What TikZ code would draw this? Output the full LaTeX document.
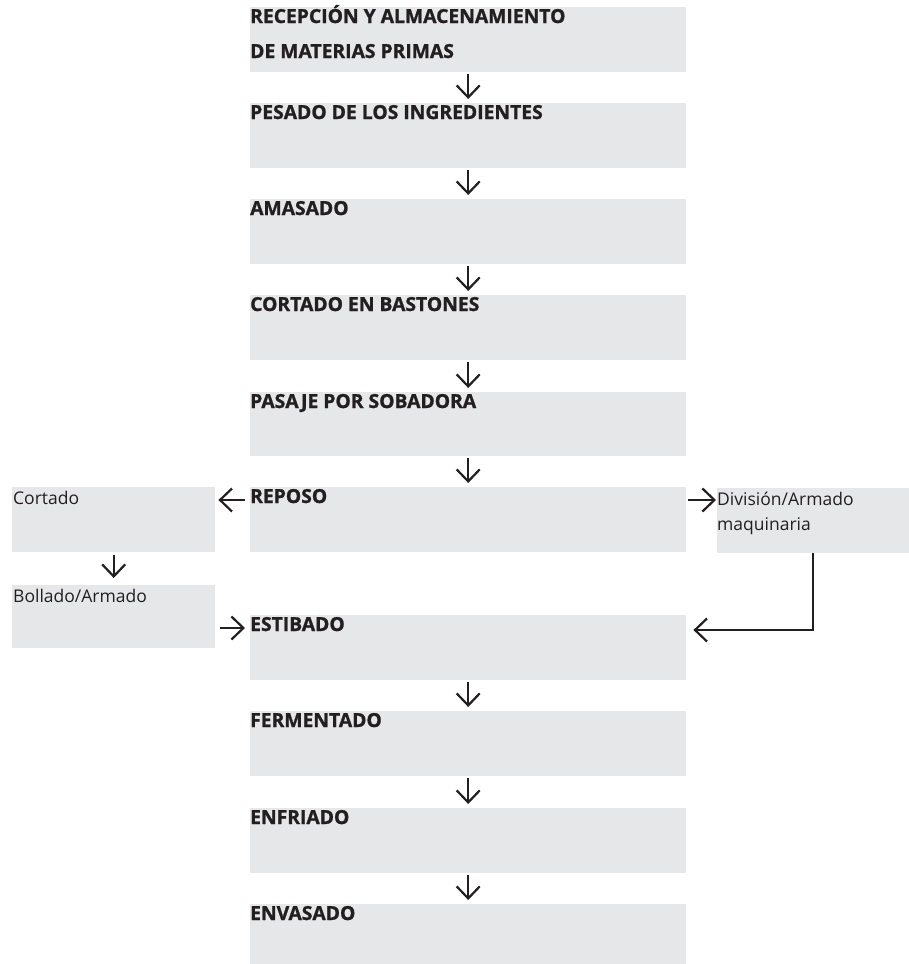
\documentclass[tikz,border=0pt]{standalone}
\usepackage{fontspec}
\setmainfont{Open Sans}[BoldFeatures={FakeBold=1.2}]
\usetikzlibrary{arrows.meta,calc}
\definecolor{boxgray}{HTML}{E6E7E8}
\definecolor{ink}{HTML}{231F20}
\newcommand{\boldlbl}{\fontsize{19.3}{35}\selectfont\bfseries}
\newcommand{\normlbl}{\fontsize{17.5}{25}\selectfont}
\begin{document}
\begin{tikzpicture}[x=1pt,y=-1pt,
  box/.style={fill=boxgray,draw=none,inner sep=0pt,anchor=north west,minimum width=436pt,minimum height=65pt},
  sidebox/.style={box,minimum width=203pt},
  ttl/.style={anchor=base west,inner sep=0pt,text=ink,font=\boldlbl},
  sub/.style={anchor=base west,inner sep=0pt,text=ink,font=\normlbl},
  arr/.style={draw=ink,line width=2.2pt,-{Straight Barb[length=12pt,width=23pt]}},
  varr/.style={arr,shorten <=2pt,shorten >=4pt}]
\useasboundingbox (0,0) rectangle (909,964);
% main column boxes
\node[box] (b1) at (250,7) {};
\node[box] (b2) at (250,103) {};
\node[box] (b3) at (250,199) {};
\node[box] (b4) at (250,295) {};
\node[box,minimum height=64pt] (b5) at (250,392) {};
\node[box] (b6) at (250,487) {};
\node[box] (b7) at (250,615) {};
\node[box] (b8) at (250,711) {};
\node[box] (b9) at (250,808) {};
\node[box,minimum height=60pt] (b10) at (250,904) {};
% side boxes
\node[sidebox] (cort) at (12,487) {};
\node[sidebox,minimum height=63pt] (boll) at (12,585) {};
\node[box,minimum width=192pt] (div) at (717,488) {};
% labels
\node[ttl] (t1) at ($(b1.north west)+(0,16)$) {\begin{tabular}[t]{@{}l@{}}RECEPCIÓN Y ALMACENAMIENTO\\DE MATERIAS PRIMAS\end{tabular}};
\node[ttl] (t2) at ($(b2.north west)+(0,16)$) {PESADO DE LOS INGREDIENTES};
\node[ttl] (t3) at ($(b3.north west)+(0,16)$) {AMASADO};
\node[ttl] (t4) at ($(b4.north west)+(0,16)$) {CORTADO EN BASTONES};
\node[ttl] (t5) at ($(b5.north west)+(0,16)$) {PASAJE POR SOBADORA};
\node[ttl] (t6) at ($(b6.north west)+(0,16)$) {REPOSO};
\node[ttl] (t7) at ($(b7.north west)+(0,16)$) {ESTIBADO};
\node[ttl] (t8) at ($(b8.north west)+(0,16)$) {FERMENTADO};
\node[ttl] (t9) at ($(b9.north west)+(0,16)$) {ENFRIADO};
\node[ttl] (t10) at ($(b10.north west)+(0,16)$) {ENVASADO};
\node[sub] (tc) at ($(cort.north west)+(1,17)$) {Cortado};
\node[sub] (tb) at ($(boll.north west)+(1,17)$) {Bollado/Armado};
\node[sub] (td) at ($(div.north west)+(0,17)$) {\begin{tabular}[t]{@{}l@{}}División/Armado\\maquinaria\end{tabular}};
% vertical connectors
\draw[varr] (b1.south) -- (b2.north);
\draw[varr] (b2.south) -- (b3.north);
\draw[varr] (b3.south) -- (b4.north);
\draw[varr] (b4.south) -- (b5.north);
\draw[varr] (b5.south) -- (b6.north);
\draw[varr] (b7.south) -- (b8.north);
\draw[varr] (b8.south) -- (b9.north);
\draw[varr] (b9.south) -- (b10.north);
\draw[arr,shorten <=3pt,shorten >=7pt] (cort.south) -- (boll.north);
% horizontal connectors
\draw[arr] ($(b6.north west)+(-5,13)$) -- ($(cort.north east)+(3,13)$);
\draw[arr] ($(b6.north east)+(2,13)$) -- ($(div.north west)+(-1,12)$);
\draw[arr] ($(boll.north east)+(5,43)$) -- ($(b7.north west)+(-5,13)$);
\coordinate (e) at ($(b7.north east)+(7,15)$);
\draw[arr] (div.south) |- (e);
\end{tikzpicture}
\end{document}
